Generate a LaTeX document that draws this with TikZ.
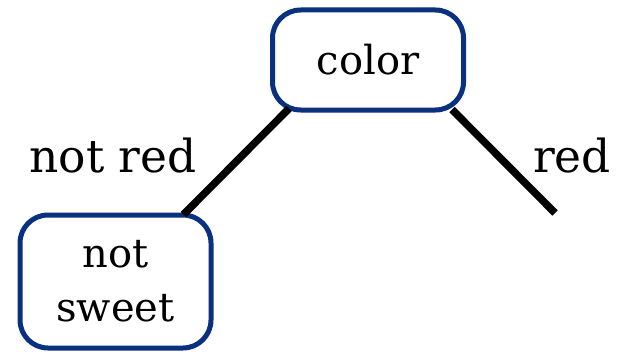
\documentclass[tikz,border=0pt]{standalone}
\usepackage{fontspec}
\setmainfont{DejaVu Serif}
\definecolor{boxblue}{RGB}{10,48,128}
\begin{document}
\begin{tikzpicture}[x=1pt,y=-1pt,
  treebox/.style={draw=boxblue, line width=5pt, rounded corners=28pt, fill=white,
    align=center, inner sep=0pt, font=\fontsize{40}{53}\selectfont},
  edge/.style={line width=7.5pt, black},
  lbl/.style={font=\fontsize{45.5}{52}\selectfont, inner sep=0pt}]
\useasboundingbox (0,0) rectangle (617,353);
% decision node and its leaf
\node[treebox, minimum width=191pt, minimum height=100pt] (color) at (368,60) {color};
\node[treebox, minimum width=191pt, minimum height=133pt] (ns) at (115.5,281.5) {not\\[1pt]sweet};
\coordinate (redend) at (555,213);
% branches
\begin{scope}[on background layer/.try]
\draw[edge] ([shift={(19,-4)}]color.south west) -- ([shift={(-30,2)}]ns.north east);
\draw[edge] ([shift={(-14,-3)}]color.south east) -- (redend);
\end{scope}
% branch labels
\node[lbl, anchor=base] (nr) at (113,172) {not red};
\node[lbl, anchor=base] (rd) at (572,172) {red};
\end{tikzpicture}
\end{document}
